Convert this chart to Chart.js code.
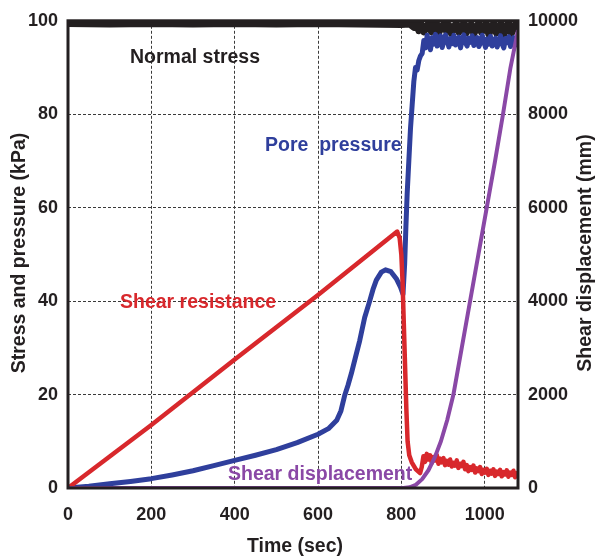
<!DOCTYPE html>
<html>
<head>
<meta charset="utf-8">
<script src="https://cdn.jsdelivr.net/npm/chart.js@4/dist/chart.umd.min.js"></script>
<style>
  html, body { margin: 0; padding: 0; background: #fff; }
  canvas { display: block; }
</style>
</head>
<body>
<canvas id="c" width="596" height="558"></canvas>
<script>
// time (sec) / value pairs for each record
const normalT = [0, 100, 200, 300, 400, 500, 600, 700, 800, 820, 830, 836, 842, 848, 854, 860, 866, 872, 878, 884, 890, 896, 902, 908, 914, 920, 926, 932, 938, 944, 950, 956, 962, 968, 974, 980, 986, 992, 998, 1004, 1010, 1016, 1022, 1028, 1034, 1040, 1046, 1052, 1058, 1064, 1070, 1076, 1080];
const normalKPa = [99.4, 99.3, 99.4, 99.3, 99.4, 99.3, 99.4, 99.3, 99.2, 99.3, 98.6, 99.6, 97.9, 99.2, 97.6, 98.8, 99.5, 97.7, 98.9, 99.6, 97.5, 98.6, 99.4, 97.8, 99.1, 97.3, 98.7, 99.5, 97.6, 98.4, 99.6, 97.4, 98.9, 99.2, 97.2, 98.5, 99.6, 97.6, 98.8, 99.4, 97.1, 98.6, 99.5, 97.4, 98.9, 99.3, 97.0, 98.7, 99.6, 97.3, 98.4, 99.5, 97.6];

const poreT = [0, 50, 100, 150, 200, 250, 300, 350, 400, 450, 500, 550, 600, 625, 645, 655, 664, 672, 680, 690, 700, 712, 724, 732, 740, 752, 762, 775, 788, 798, 804, 808, 811, 814, 818, 822, 826, 830, 834, 838, 842, 846,
  850, 854, 858, 862, 866, 870, 874, 878, 882, 886, 890, 894, 898, 902, 906, 910, 914, 918, 922, 926, 930, 934, 938, 942, 946, 950, 954, 958, 962, 966, 970, 974, 978, 982, 986, 990, 994, 998, 1002, 1006, 1010, 1014, 1018, 1022, 1026, 1030, 1034, 1038, 1042, 1046, 1050, 1054, 1058, 1062, 1066, 1070, 1074, 1078, 1080];
const poreKPa = [0, 0.4, 0.9, 1.4, 2.0, 2.8, 3.7, 4.8, 5.9, 7.0, 8.2, 9.7, 11.5, 12.7, 14.5, 16.5, 19.8, 22.0, 24.5, 28.0, 31.5, 36.5, 40.0, 42.5, 44.5, 46.2, 46.7, 46.3, 44.8, 43.0, 41.5, 48, 56, 63, 70, 77, 82, 87, 90, 89.5, 91.5, 92.5,
  93.0, 95.8, 94.2, 96.9, 95.1, 93.8, 96.4, 95.0, 97.1, 94.6, 95.9, 96.8, 94.3, 95.5, 97.0, 95.8, 94.4, 96.2, 95.1, 96.9, 94.8, 95.7, 96.5, 94.2, 95.9, 97.0, 95.3, 94.6, 96.3, 95.4, 96.8, 94.7, 95.6, 96.4, 94.5, 95.2, 96.9, 95.6, 94.3, 96.1, 95.0, 96.7, 94.6, 95.8, 96.3, 94.4, 95.5, 96.8, 95.0, 94.2, 96.2, 95.3, 96.6, 94.5, 95.7, 96.4, 94.8, 95.9, 96.0];

const shearT = [0, 200, 400, 600, 790, 796, 800, 803, 806, 809, 812, 815, 819, 825, 835,
  845, 849, 853, 857, 861, 865, 869, 873, 877, 881, 885, 889, 893, 897, 901, 905, 909, 913, 917, 921, 925, 929, 933, 937, 941, 945, 949, 953, 957, 961, 965, 969, 973, 977, 981, 985, 989, 993, 997, 1001, 1005, 1009, 1013, 1017, 1021, 1025, 1029, 1033, 1037, 1041, 1045, 1049, 1053, 1057, 1061, 1065, 1069, 1073, 1077, 1080];
const shearKPa = [0, 13.5, 27.5, 41.3, 54.9, 53.5, 50, 44, 35, 26, 17, 10, 7, 5.5, 4,
  3.2, 4.5, 6.8, 5.6, 7.3, 6.1, 7.0, 5.4, 6.6, 5.9, 7.1, 5.2, 6.3, 5.5, 6.4, 4.9, 5.8, 5.0, 6.1, 4.6, 5.4, 4.8, 5.9, 4.3, 5.2, 4.7, 5.6, 4.0, 4.9, 3.6, 4.5, 3.9, 4.8, 3.3, 4.2, 3.6, 4.5, 3.0, 3.9, 3.3, 4.1, 2.8, 3.7, 3.1, 4.0, 2.6, 3.5, 3.0, 3.9, 2.5, 3.4, 2.9, 3.8, 2.4, 3.3, 2.8, 3.7, 2.3, 3.2, 2.7];

const dispT = [0, 805, 820, 835, 850, 865, 880, 895, 910, 925, 945, 965, 985, 1005, 1025, 1044, 1062, 1080];
const dispMm = [0, 0, 15, 70, 190, 380, 650, 1000, 1450, 2000, 3000, 4000, 5000, 6000, 7000, 8000, 9000, 9800];

const xTicks = [0, 200, 400, 600, 800, 1000];

const ink = '#231f20';
const red = '#d8282c';
const blue = '#2f3f9c';
const purple = '#8a48a6';

const pts = (t, v) => t.map((x, i) => ({ x: x, y: v[i] }));

const frameAndLabels = {
  id: 'frameAndLabels',
  afterDatasetsDraw(chart) {
    const { ctx, chartArea: a } = chart;
    ctx.save();
    ctx.strokeStyle = ink;
    ctx.lineWidth = 3;
    ctx.strokeRect(a.left, a.top, a.right - a.left, a.bottom - a.top);

    ctx.font = 'bold 19.5px "Liberation Sans", Arial, sans-serif';
    ctx.textBaseline = 'middle';
    ctx.textAlign = 'left';
    ctx.fillStyle = ink;
    ctx.fillText('Normal stress', 130, 58);
    ctx.fillStyle = blue;
    ctx.fillText('Pore  pressure', 265, 146);
    ctx.fillStyle = red;
    ctx.fillText('Shear resistance', 120, 303);
    ctx.fillStyle = purple;
    ctx.fillText('Shear displacement', 228, 475);

    // axis titles
    ctx.fillStyle = ink;
    ctx.textAlign = 'center';
    ctx.fillText('Time (sec)', 295, 547);
    ctx.save();
    ctx.translate(20, 253);
    ctx.rotate(-Math.PI / 2);
    ctx.fillText('Stress and pressure (kPa)', 0, 0);
    ctx.restore();
    ctx.save();
    ctx.translate(586, 253);
    ctx.rotate(-Math.PI / 2);
    ctx.fillText('Shear displacement (mm)', 0, 0);
    ctx.restore();
    ctx.restore();
  }
};

const tickFont = { family: '"Liberation Sans", Arial, sans-serif', size: 18, weight: 'bold' };
const plain = v => String(v);

new Chart(document.getElementById('c'), {
  type: 'line',
  data: {
    datasets: [
      { data: pts(dispT, dispMm), yAxisID: 'y2', borderColor: purple, borderWidth: 4 },
      { data: pts(shearT, shearKPa), yAxisID: 'y', borderColor: red, borderWidth: 4.5 },
      { data: pts(poreT, poreKPa), yAxisID: 'y', borderColor: blue, borderWidth: 5 },
      { data: pts(normalT, normalKPa), yAxisID: 'y', borderColor: ink, borderWidth: 7 }
    ]
  },
  options: {
    responsive: false,
    animation: false,
    layout: { padding: { top: 18, right: 0, bottom: 0, left: 0 } },
    elements: { point: { radius: 0 }, line: { tension: 0, borderJoinStyle: 'round' } },
    plugins: { legend: { display: false }, tooltip: { enabled: false } },
    scales: {
      x: {
        type: 'linear',
        min: 0,
        max: 1080,
        afterBuildTicks: s => { s.ticks = xTicks.map(v => ({ value: v })); },
        afterFit: s => { s.height = 70; },
        grid: { color: '#3a3a3a', lineWidth: 1, drawTicks: false },
        border: { display: false, dash: [3, 2] },
        ticks: { font: tickFont, color: ink, padding: 16, maxRotation: 0, callback: plain }
      },
      y: {
        position: 'left',
        min: 0,
        max: 100,
        afterFit: s => { s.width = 68; },
        grid: { color: '#3a3a3a', lineWidth: 1, drawTicks: false },
        border: { display: false, dash: [3, 2] },
        ticks: { stepSize: 20, font: tickFont, color: ink, padding: 10, callback: plain }
      },
      y2: {
        position: 'right',
        min: 0,
        max: 10000,
        afterFit: s => { s.width = 78; },
        grid: { drawOnChartArea: false, drawTicks: false },
        border: { display: false },
        ticks: { stepSize: 2000, font: tickFont, color: ink, padding: 10, callback: plain }
      }
    }
  },
  plugins: [frameAndLabels]
});
</script>
</body>
</html>
